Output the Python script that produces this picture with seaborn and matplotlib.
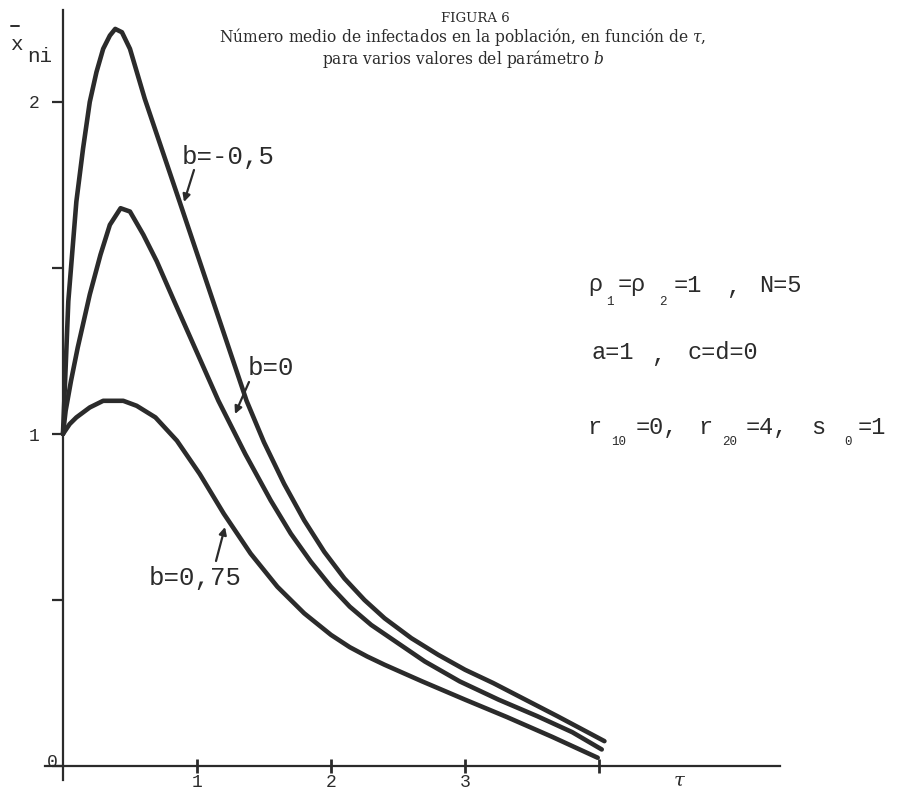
import numpy as np
import pandas as pd
import matplotlib
matplotlib.use("Agg")
import matplotlib.pyplot as plt
import matplotlib.transforms as mtransforms
from matplotlib.lines import Line2D
import seaborn as sns

# ---- data ----
tau_b_neg05 = [0.00, 0.01, 0.04, 0.10, 0.15, 0.20, 0.25, 0.30, 0.35, 0.39, 0.44, 0.50, 0.61,
               0.87, 1.12, 1.37, 1.50, 1.65, 1.80, 1.95, 2.10, 2.25, 2.40, 2.60, 2.80, 3.00,
               3.21, 3.45, 3.69, 4.04]
x_b_neg05 = [1.00, 1.10, 1.40, 1.70, 1.86, 2.00, 2.09, 2.16, 2.20, 2.22, 2.21, 2.16, 2.01,
             1.70, 1.40, 1.10, 0.975, 0.85, 0.74, 0.645, 0.565, 0.50, 0.445, 0.385, 0.335, 0.29,
             0.25, 0.20, 0.15, 0.075]

tau_b_0 = [0.00, 0.02, 0.06, 0.11, 0.20, 0.28, 0.35, 0.43, 0.50, 0.60, 0.70, 0.83, 1.16,
           1.36, 1.55, 1.70, 1.85, 2.00, 2.14, 2.30, 2.50, 2.70, 2.96, 3.25, 3.54, 3.80, 4.02]
x_b_0 = [1.00, 1.07, 1.16, 1.26, 1.42, 1.54, 1.63, 1.68, 1.67, 1.60, 1.52, 1.40, 1.10,
         0.94, 0.80, 0.70, 0.615, 0.54, 0.48, 0.425, 0.37, 0.315, 0.255, 0.20, 0.15, 0.102, 0.05]

tau_b_075 = [0.00, 0.05, 0.10, 0.20, 0.30, 0.37, 0.45, 0.55, 0.69, 0.85, 1.02, 1.20, 1.40,
             1.60, 1.80, 2.00, 2.14, 2.27, 2.40, 2.68, 3.00, 3.31, 3.65, 3.99]
x_b_075 = [1.00, 1.03, 1.05, 1.08, 1.10, 1.10, 1.10, 1.085, 1.05, 0.98, 0.88, 0.76, 0.64,
           0.54, 0.46, 0.395, 0.358, 0.33, 0.305, 0.255, 0.20, 0.148, 0.088, 0.025]

b_labels = ["b=-0,5", "b=0", "b=0,75"]
x_ticks = [1, 2, 3, 4]
x_tick_labels = ["1", "2", "3", ""]
y_ticks = [0, 0.5, 1, 1.5, 2]
y_tick_labels = ["0", "", "1", "", "2"]

df = pd.concat([
    pd.DataFrame({"tau": tau_b_neg05, "x": x_b_neg05, "b": b_labels[0]}),
    pd.DataFrame({"tau": tau_b_0, "x": x_b_0, "b": b_labels[1]}),
    pd.DataFrame({"tau": tau_b_075, "x": x_b_075, "b": b_labels[2]}),
], ignore_index=True)

# ---- style ----
sns.set_theme(style="white")
plt.rcParams["font.family"] = ["Liberation Mono", "DejaVu Sans"]
plt.rcParams["mathtext.fontset"] = "dejavuserif"

INK = "#2b2b2b"
W, H = 900, 799
fig = plt.figure(figsize=(9, 7.99), dpi=100, facecolor="white")
ax = fig.add_axes([45 / W, 1 - 780 / H, 735 / W, 770 / H])
ax.set_facecolor("white")

sns.lineplot(data=df, x="tau", y="x", hue="b", palette=[INK, INK, INK],
             sort=False, estimator=None, linewidth=3.3, legend=False, ax=ax)
for ln in ax.get_lines():
    ln.set_solid_capstyle("round")
    ln.set_solid_joinstyle("round")

ax.set_xlim(-0.134, 5.35)
ax.set_ylim(-0.042, 2.277)
for s in ["top", "right"]:
    ax.spines[s].set_visible(False)
ax.spines["left"].set_position(("data", 0))
ax.spines["bottom"].set_position(("data", 0))
for s in ["left", "bottom"]:
    ax.spines[s].set_color(INK)
    ax.spines[s].set_linewidth(1.6)

ax.set_xticks(x_ticks)
ax.set_xticklabels(x_tick_labels)
ax.set_yticks(y_ticks)
ax.set_yticklabels(y_tick_labels)
ax.tick_params(axis="x", bottom=True, direction="inout", length=10, width=2, color=INK,
               labelsize=13, pad=1, labelcolor=INK)
ax.tick_params(axis="y", left=True, direction="out", length=8, width=1.6, color=INK,
               labelsize=13, pad=9, labelcolor=INK)
ax.set_xlabel("")
ax.set_ylabel("")

# nudge the "0" label into the corner as in the original
zero_lab = ax.get_yticklabels()[0]
zero_lab.set_transform(zero_lab.get_transform() +
                       mtransforms.ScaledTranslation(18 / 100, 6 / 100, fig.dpi_scale_trans))


def P(x, y):
    return (x / W, 1 - y / H)


tf = fig.transFigure

# y-axis label  x̄_ni
fig.text(*P(16, 44), "x", transform=tf, fontsize=15, ha="center", va="center", color=INK)
fig.add_artist(Line2D([11 / W, 19 / W], [1 - 26 / H, 1 - 26 / H], transform=tf,
                      color=INK, lw=1.4))
fig.text(*P(40, 57), "ni", transform=tf, fontsize=15, ha="center", va="center", color=INK)

# x-axis label
fig.text(*P(680, 781), r"$\tau$", transform=tf, fontsize=14, ha="center", va="center", color=INK)

# title
fig.text(*P(475, 18), "FIGURA 6", transform=tf, fontsize=9.5, family="DejaVu Serif",
         ha="center", va="center", color=INK)
fig.text(*P(463, 48),
         "Número medio de infectados en la población, en función de $\\tau$,\n"
         "para varios valores del parámetro $b$",
         transform=tf, fontsize=11.2, family="DejaVu Serif", ha="center", va="center",
         multialignment="center", linespacing=0.98, color=INK)

# curve labels with arrows
lab_pos = [(228, 157), (271, 368), (195, 578)]
arrows = [((194, 170), (184, 202)), ((249, 382), (235, 414)), ((216, 561), (225, 527))]
for lab, (lx, ly), (tail, tip) in zip(b_labels, lab_pos, arrows):
    fig.text(*P(lx, ly), lab, transform=tf, fontsize=18.5, ha="center", va="center", color=INK)
    ax.annotate("", xy=(tip[0], H - tip[1]), xytext=(tail[0], H - tail[1]),
                xycoords="figure pixels", textcoords="figure pixels",
                arrowprops=dict(arrowstyle="-|>", color=INK, lw=1.6, shrinkA=0, shrinkB=0,
                                mutation_scale=11))

# parameter block
main_fs, sub_fs = 17, 9
pieces = [
    # line 1
    ("ρ", 595, 285, main_fs), ("1", 610, 302, sub_fs), ("=ρ", 632, 285, main_fs),
    ("2", 663, 302, sub_fs), ("=1", 688, 285, main_fs), (",", 733, 287, main_fs),
    ("N=5", 780, 285, main_fs),
    # line 2
    ("a=1", 613, 352, main_fs), (",", 658, 355, main_fs), ("c=d=0", 723, 352, main_fs),
    # line 3
    ("r", 594, 427, main_fs), ("10", 619, 442, sub_fs), ("=0,", 657, 427, main_fs),
    ("r", 705, 427, main_fs), ("20", 730, 442, sub_fs), ("=4,", 767, 427, main_fs),
    ("s", 818, 427, main_fs), ("0", 848, 442, sub_fs), ("=1", 872, 427, main_fs),
]
for t, x, y, fs in pieces:
    fig.text(*P(x, y), t, transform=tf, fontsize=fs, ha="center", va="center", color=INK)

fig.savefig("out.png", dpi=100, facecolor="white")
